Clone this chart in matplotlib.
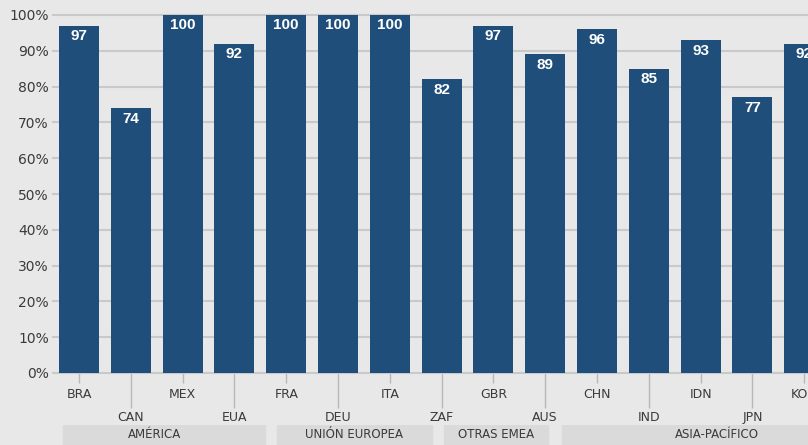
import matplotlib
matplotlib.use("Agg")
import matplotlib.pyplot as plt
import numpy as np

# data
countries = ["BRA", "CAN", "MEX", "EUA", "FRA", "DEU", "ITA", "ZAF",
             "GBR", "AUS", "CHN", "IND", "IDN", "JPN", "KOR"]
values = [97, 74, 100, 92, 100, 100, 100, 82, 97, 89, 96, 85, 93, 77, 92]
regions = ["AMÉRICA", "UNIÓN EUROPEA", "OTRAS EMEA", "ASIA-PACÍFICO"]
# band extents in bar-index units (layout)
region_spans = [(-0.31, 3.59), (3.82, 6.81), (7.05, 9.05), (9.32, 15.3)]
label_pos = [1.45, 5.3, 8.05, 12.32]

bg = "#e8e8e8"
bar_color = "#1f4e7a"
grid_color = "#c9c9c9"
text_color = "#3a3a3a"

fig = plt.figure(figsize=(8.08, 4.45), dpi=100, facecolor=bg)
W, H = 808, 445
left_px, right_px = 53.1, 53.1 + 15 * 51.8
top_px, zero_px = 15, 373
ax = fig.add_axes([left_px / W, (H - zero_px) / H,
                   (right_px - left_px) / W, (zero_px - top_px) / H])
ax.set_facecolor(bg)

x = np.arange(len(countries))
ax.bar(x, values, width=0.77, color=bar_color, zorder=3)
for xi, v in zip(x, values):
    ax.annotate(str(v), (xi, v), xytext=(0, -2.5), textcoords="offset points",
                ha="center", va="top", color="white", fontsize=11,
                fontweight="bold", family="Liberation Sans", zorder=4)

ax.set_xlim(-0.5, 14.5)
ax.set_ylim(0, 100)
yt = np.arange(0, 101, 10)
ax.set_yticks(yt, [f"{t}%" for t in yt])
ax.yaxis.grid(True, color=grid_color, linewidth=1.5, zorder=0)
ax.set_axisbelow(True)
for s in ax.spines.values():
    s.set_visible(False)
ax.tick_params(axis="y", length=0, pad=3, labelsize=10, labelcolor=text_color)
for gl in ax.get_ygridlines():
    gl.set_clip_on(False)

even = x[::2]
odd = x[1::2]
ax.set_xticks(even, [countries[i] for i in even])
ax.set_xticks(odd, [countries[i] for i in odd], minor=True)
ax.tick_params(axis="x", which="major", length=7.5, width=1, color="#b8b8b8",
               pad=3, labelsize=9, labelcolor=text_color)
ax.tick_params(axis="x", which="minor", length=25, width=1, color="#b8b8b8",
               pad=2.5, labelsize=9, labelcolor=text_color)

# region bands below the axis
band_ax = fig.add_axes([left_px / W, 0, (right_px - left_px) / W, 20 / H])
band_ax.set_xlim(-0.5, 14.5)
band_ax.set_ylim(0, 1)
band_ax.axis("off")
for name, (a, b), cx in zip(regions, region_spans, label_pos):
    band_ax.axvspan(a, b, color="#dadada", zorder=1)
    band_ax.text(cx, 0.5, name, ha="center", va="center", fontsize=8.5,
                 color=text_color, zorder=2)

fig.savefig("out.png", dpi=100, facecolor=bg)
